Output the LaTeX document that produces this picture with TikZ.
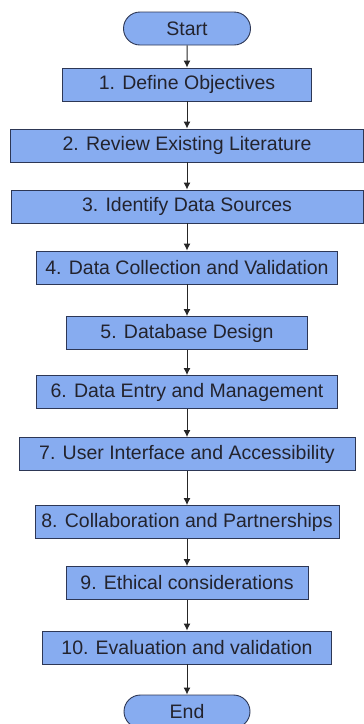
\documentclass[tikz,border=0pt]{standalone}
\usepackage{fontspec}
\setmainfont{Liberation Sans}
\usetikzlibrary{shapes.misc,arrows.meta}
\definecolor{boxfill}{RGB}{135,172,240}
\definecolor{boxline}{RGB}{45,55,85}
\definecolor{boxtext}{RGB}{35,35,45}

\begin{document}
\begin{tikzpicture}[x=1pt,y=1pt,
  stepbox/.style={draw=boxline,fill=boxfill,line width=0.9pt,minimum height=33pt,inner sep=0pt,text=boxtext,font=\fontsize{19.5}{21}\selectfont},
  termbox/.style={stepbox,rounded rectangle},
  flow/.style={->,>={Latex[length=7pt,width=7pt]},line width=1pt,black!85}]
  \def\cx{187};
  \useasboundingbox (0,0) rectangle (364,-724);

  \node[termbox,minimum width=127pt] (start) at (\cx,-28.5){Start};
  \node[stepbox,minimum width=249pt] (s1) at (\cx,-84.5){1. Define Objectives};
  \node[stepbox,minimum width=353pt] (s2) at (\cx,-145.5){2. Review Existing Literature};
  \node[stepbox,minimum width=352pt] (s3) at (\cx,-206.5){3. Identify Data Sources};
  \node[stepbox,minimum width=301pt] (s4) at (\cx,-267.5){4. Data Collection and Validation};
  \node[stepbox,minimum width=241pt] (s5) at (\cx,-333){5. Database Design};
  \node[stepbox,minimum width=301pt] (s6) at (\cx,-392){6. Data Entry and Management};
  \node[stepbox,minimum width=336pt] (s7) at (\cx,-454){7. User Interface and Accessibility};
  \node[stepbox,minimum width=304pt] (s8) at (\cx,-522){8. Collaboration and Partnerships};
  \node[stepbox,minimum width=242pt] (s9) at (\cx,-583){9. Ethical considerations};
  \node[stepbox,minimum width=289pt] (s10) at (\cx,-647.5){10. Evaluation and validation};
  \node[termbox,minimum width=126pt] (end) at (\cx,-711.5){End};

  \draw[flow] (start)--(s1);
  \draw[flow] (s1)--(s2);
  \draw[flow] (s2)--(s3);
  \draw[flow] (s3)--(s4);
  \draw[flow] (s4)--(s5);
  \draw[flow] (s5)--(s6);
  \draw[flow] (s6)--(s7);
  \draw[flow] (s7)--(s8);
  \draw[flow] (s8)--(s9);
  \draw[flow] (s9)--(s10);
  \draw[flow] (s10)--(end);
\end{tikzpicture}
\end{document}
